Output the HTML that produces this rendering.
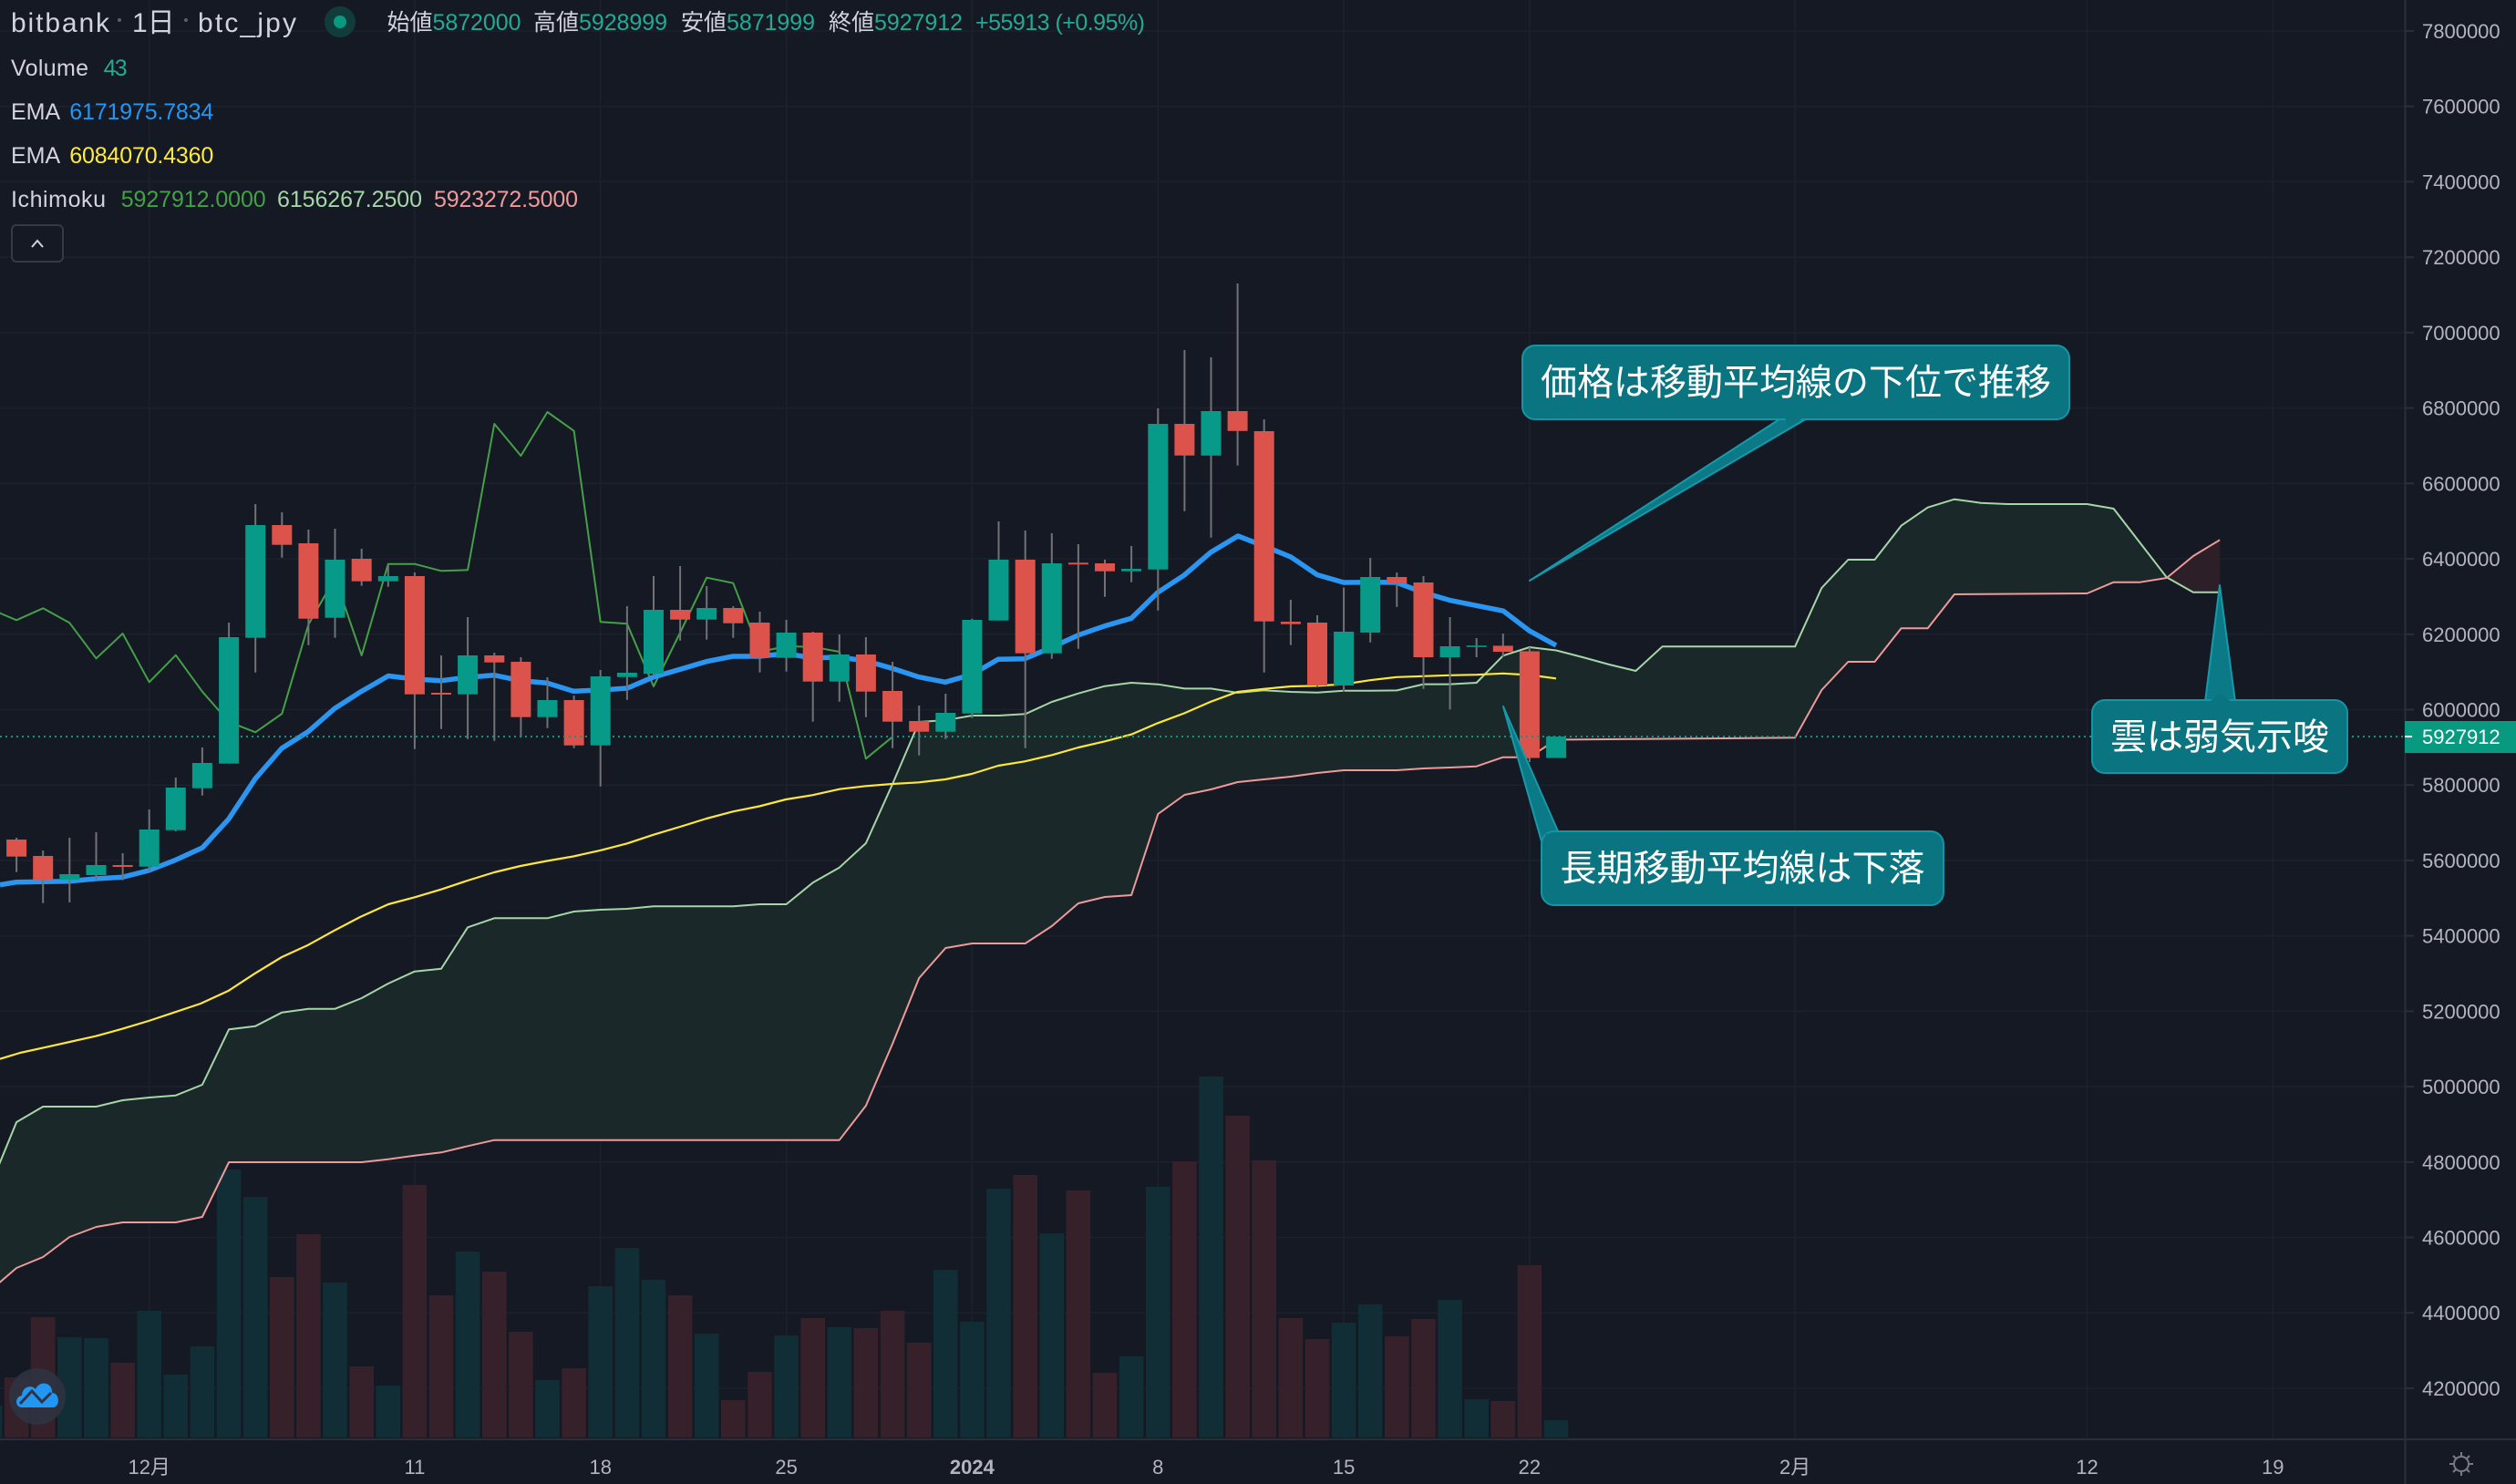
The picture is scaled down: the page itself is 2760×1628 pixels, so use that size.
<!DOCTYPE html>
<html><head><meta charset="utf-8"><style>
html,body{margin:0;padding:0;background:#151924;overflow:hidden;}
svg{display:block;}
text{font-family:"Liberation Sans","Noto Sans CJK JP",sans-serif;}
</style></head><body>
<svg width="2760" height="1628" viewBox="0 0 2760 1628" xmlns="http://www.w3.org/2000/svg">
<rect x="0" y="0" width="2760" height="1628" fill="#151924"/>
<!-- grid -->
<g stroke="#1d212c" stroke-width="1.5">
<line x1="0" y1="34" x2="2638" y2="34"/><line x1="0" y1="116.7" x2="2638" y2="116.7"/><line x1="0" y1="199.4" x2="2638" y2="199.4"/><line x1="0" y1="282.2" x2="2638" y2="282.2"/><line x1="0" y1="364.9" x2="2638" y2="364.9"/><line x1="0" y1="447.6" x2="2638" y2="447.6"/><line x1="0" y1="530.3" x2="2638" y2="530.3"/><line x1="0" y1="613" x2="2638" y2="613"/><line x1="0" y1="695.8" x2="2638" y2="695.8"/><line x1="0" y1="778.5" x2="2638" y2="778.5"/><line x1="0" y1="861.2" x2="2638" y2="861.2"/><line x1="0" y1="943.9" x2="2638" y2="943.9"/><line x1="0" y1="1026.6" x2="2638" y2="1026.6"/><line x1="0" y1="1109.4" x2="2638" y2="1109.4"/><line x1="0" y1="1192.1" x2="2638" y2="1192.1"/><line x1="0" y1="1274.8" x2="2638" y2="1274.8"/><line x1="0" y1="1357.5" x2="2638" y2="1357.5"/><line x1="0" y1="1440.2" x2="2638" y2="1440.2"/><line x1="0" y1="1523" x2="2638" y2="1523"/>
<line x1="163.7" y1="0" x2="163.7" y2="1579"/><line x1="454.9" y1="0" x2="454.9" y2="1579"/><line x1="658.7" y1="0" x2="658.7" y2="1579"/><line x1="862.6" y1="0" x2="862.6" y2="1579"/><line x1="1066.4" y1="0" x2="1066.4" y2="1579"/><line x1="1270.3" y1="0" x2="1270.3" y2="1579"/><line x1="1474.1" y1="0" x2="1474.1" y2="1579"/><line x1="1677.9" y1="0" x2="1677.9" y2="1579"/><line x1="1969.1" y1="0" x2="1969.1" y2="1579"/><line x1="2289.5" y1="0" x2="2289.5" y2="1579"/><line x1="2493.3" y1="0" x2="2493.3" y2="1579"/>
</g>
<!-- cloud fill -->
<polygon fill="#1b2829" points="-11,1302 18.1,1231 47.2,1214 76.3,1214 105.5,1214 134.6,1207 163.7,1204 192.8,1201.7 221.9,1190 251.1,1129.3 280.2,1125.7 309.3,1110.7 338.4,1106.7 367.5,1106.7 396.7,1095 425.8,1079 454.9,1065.7 484,1062.7 513.1,1017.3 542.3,1007.3 571.4,1007.3 600.5,1007.3 629.6,1000 658.7,998 687.9,997 717,994.3 746.1,994.3 775.2,994.3 804.3,994.3 833.5,992 862.6,992 891.7,968.3 920.8,951.7 949.9,925 979.1,860 1008.2,792 1037.3,790 1066.4,785 1095.5,785 1124.7,783.3 1153.8,770 1182.9,760.7 1212,752.7 1241.1,749 1270.3,750.7 1299.4,755.4 1328.5,755.4 1357.6,760 1386.7,757.3 1415.9,759 1445,759.8 1474.1,757.7 1503.2,757.7 1532.3,757.4 1561.5,750.6 1590.6,750.6 1619.7,749 1648.8,719.3 1677.9,710 1707.1,713.5 1736.2,721 1765.3,729 1794.4,736 1823.5,709.3 1969.1,709.3 1998.3,645 2027.4,614 2056.5,614 2085.6,576.7 2114.7,556.7 2143.9,547.7 2173,551.7 2202.1,553 2289.5,553 2318.6,558 2347.7,595.6 2376.8,633.6 2347.7,638.7 2318.6,638.7 2289.5,651 2143.9,652 2114.7,689.3 2085.6,689.3 2056.5,726 2027.4,726 1998.3,757 1969.1,809.3 1707.1,811.5 1677.9,830.7 1648.8,830.7 1619.7,840.7 1590.6,842 1561.5,843 1532.3,845 1474.1,845 1445,848 1415.9,852 1386.7,855 1357.6,858 1328.5,866 1299.4,872 1270.3,893 1241.1,982 1212,984 1182.9,991 1153.8,1016 1124.7,1035 1066.4,1035 1037.3,1040 1008.2,1073 979.1,1145 949.9,1213 920.8,1250.7 542.3,1250.7 513.1,1257.3 484,1264.3 454.9,1267.7 425.8,1271.7 396.7,1275 251.1,1275 221.9,1335 192.8,1341 163.7,1341 134.6,1341 105.5,1346 76.3,1357 47.2,1379 18.1,1391 -11,1416"/>
<polygon fill="#2c1f28" points="2376.8,633.6 2405.9,649.7 2435.1,649.7 2435.1,592.3 2405.9,610"/>
<!-- volume -->
<g fill="#112d36">
<rect x="-24.3" y="1541.7" width="26.6" height="35.3"/><rect x="63" y="1467" width="26.6" height="110"/><rect x="92.2" y="1468" width="26.6" height="109"/><rect x="150.4" y="1438" width="26.6" height="139"/><rect x="179.5" y="1508" width="26.6" height="69"/><rect x="208.6" y="1477" width="26.6" height="100"/><rect x="237.8" y="1283" width="26.6" height="294"/><rect x="266.9" y="1313" width="26.6" height="264"/><rect x="354.2" y="1407" width="26.6" height="170"/><rect x="412.5" y="1520" width="26.6" height="57"/><rect x="499.8" y="1373" width="26.6" height="204"/><rect x="587.2" y="1514" width="26.6" height="63"/><rect x="645.4" y="1411" width="26.6" height="166"/><rect x="674.6" y="1369" width="26.6" height="208"/><rect x="703.7" y="1404" width="26.6" height="173"/><rect x="761.9" y="1463" width="26.6" height="114"/><rect x="849.3" y="1465" width="26.6" height="112"/><rect x="907.5" y="1456" width="26.6" height="121"/><rect x="1024" y="1393" width="26.6" height="184"/><rect x="1053.1" y="1450" width="26.6" height="127"/><rect x="1082.2" y="1304" width="26.6" height="273"/><rect x="1140.5" y="1353" width="26.6" height="224"/><rect x="1227.8" y="1488" width="26.6" height="89"/><rect x="1257" y="1302" width="26.6" height="275"/><rect x="1315.2" y="1181" width="26.6" height="396"/><rect x="1460.8" y="1451" width="26.6" height="126"/><rect x="1489.9" y="1431" width="26.6" height="146"/><rect x="1577.3" y="1426" width="26.6" height="151"/><rect x="1606.4" y="1535" width="26.6" height="42"/><rect x="1693.8" y="1558" width="26.6" height="19"/>
</g>
<g fill="#36212a">
<rect x="4.8" y="1511" width="26.6" height="66"/><rect x="33.9" y="1445" width="26.6" height="132"/><rect x="121.3" y="1495" width="26.6" height="82"/><rect x="296" y="1401" width="26.6" height="176"/><rect x="325.1" y="1354" width="26.6" height="223"/><rect x="383.4" y="1499" width="26.6" height="78"/><rect x="441.6" y="1300" width="26.6" height="277"/><rect x="470.7" y="1421" width="26.6" height="156"/><rect x="529" y="1395" width="26.6" height="182"/><rect x="558.1" y="1461" width="26.6" height="116"/><rect x="616.3" y="1501" width="26.6" height="76"/><rect x="732.8" y="1421" width="26.6" height="156"/><rect x="791" y="1536" width="26.6" height="41"/><rect x="820.2" y="1505" width="26.6" height="72"/><rect x="878.4" y="1446" width="26.6" height="131"/><rect x="936.6" y="1457" width="26.6" height="120"/><rect x="965.8" y="1438" width="26.6" height="139"/><rect x="994.9" y="1473" width="26.6" height="104"/><rect x="1111.4" y="1289" width="26.6" height="288"/><rect x="1169.6" y="1306" width="26.6" height="271"/><rect x="1198.7" y="1506" width="26.6" height="71"/><rect x="1286.1" y="1274" width="26.6" height="303"/><rect x="1344.3" y="1224" width="26.6" height="353"/><rect x="1373.4" y="1273" width="26.6" height="304"/><rect x="1402.6" y="1446" width="26.6" height="131"/><rect x="1431.7" y="1469" width="26.6" height="108"/><rect x="1519" y="1466" width="26.6" height="111"/><rect x="1548.2" y="1447" width="26.6" height="130"/><rect x="1635.5" y="1537" width="26.6" height="40"/><rect x="1664.6" y="1388" width="26.6" height="189"/>
</g>
<!-- senkou lines -->
<polyline fill="none" stroke="#a5d6a7" stroke-width="2" stroke-linejoin="round" points="-11,1302 18.1,1231 47.2,1214 76.3,1214 105.5,1214 134.6,1207 163.7,1204 192.8,1201.7 221.9,1190 251.1,1129.3 280.2,1125.7 309.3,1110.7 338.4,1106.7 367.5,1106.7 396.7,1095 425.8,1079 454.9,1065.7 484,1062.7 513.1,1017.3 542.3,1007.3 571.4,1007.3 600.5,1007.3 629.6,1000 658.7,998 687.9,997 717,994.3 746.1,994.3 775.2,994.3 804.3,994.3 833.5,992 862.6,992 891.7,968.3 920.8,951.7 949.9,925 979.1,860 1008.2,792 1037.3,790 1066.4,785 1095.5,785 1124.7,783.3 1153.8,770 1182.9,760.7 1212,752.7 1241.1,749 1270.3,750.7 1299.4,755.4 1328.5,755.4 1357.6,760 1386.7,757.3 1415.9,759 1445,759.8 1474.1,757.7 1503.2,757.7 1532.3,757.4 1561.5,750.6 1590.6,750.6 1619.7,749 1648.8,719.3 1677.9,710 1707.1,713.5 1736.2,721 1765.3,729 1794.4,736 1823.5,709.3 1969.1,709.3 1998.3,645 2027.4,614 2056.5,614 2085.6,576.7 2114.7,556.7 2143.9,547.7 2173,551.7 2202.1,553 2289.5,553 2318.6,558 2347.7,595.6 2376.8,633.3 2405.9,649.7 2435.1,649.7"/>
<polyline fill="none" stroke="#ef9a9a" stroke-width="2" stroke-linejoin="round" points="-11,1416 18.1,1391 47.2,1379 76.3,1357 105.5,1346 134.6,1341 163.7,1341 192.8,1341 221.9,1335 251.1,1275 396.7,1275 425.8,1271.7 454.9,1267.7 484,1264.3 513.1,1257.3 542.3,1250.7 920.8,1250.7 949.9,1213 979.1,1145 1008.2,1073 1037.3,1040 1066.4,1035 1124.7,1035 1153.8,1016 1182.9,991 1212,984 1241.1,982 1270.3,893 1299.4,872 1328.5,866 1357.6,858 1386.7,855 1415.9,852 1445,848 1474.1,845 1532.3,845 1561.5,843 1590.6,842 1619.7,840.7 1648.8,830.7 1677.9,830.7 1707.1,811.5 1969.1,809.3 1998.3,757 2027.4,726 2056.5,726 2085.6,689.3 2114.7,689.3 2143.9,652 2289.5,651 2318.6,638.7 2347.7,638.7 2376.8,634 2405.9,610 2435.1,592.3"/>
<!-- chikou -->
<polyline fill="none" stroke="#43a047" stroke-width="2" stroke-linejoin="round" points="-11,668 18.1,680.3 47.2,667.3 76.3,683.3 105.5,722.3 134.6,695 163.7,748.3 192.8,718.7 221.9,758.7 251.1,792 280.2,803.3 309.3,783 338.4,685 367.5,634 396.7,719 425.8,618.7 454.9,618.7 484,626.3 513.1,625.3 542.3,465 571.4,500 600.5,452 629.6,472.7 658.7,682.3 687.9,684.3 717,753 746.1,694 775.2,633.7 804.3,639.7 833.5,715 862.6,709 891.7,709.7 920.8,715 949.9,832.3 979.1,808.3"/>
<!-- EMA slow -->
<polyline fill="none" stroke="#fde73a" stroke-width="2.2" stroke-linejoin="round" points="0,1161.7 22,1155 48,1149.3 76.5,1143 105,1136.7 134,1128.7 163,1120 191,1110.7 220,1101 251,1086.7 279,1068.3 309,1050 338,1036.7 367,1020.7 395,1006 426,992 455,984.3 484,975.7 513,966 542,957 571,950 600,944.5 629,939.5 659,932.8 688,925.3 717,915.7 746,907 775,898 804,890.3 833,884.5 862,877 891,872.3 921,865.7 950,862.3 979,860 1008,858.3 1037,855 1066,849 1095,840 1124,835.3 1154,828.3 1183,820 1212,813.3 1241,805.7 1270,793.3 1299,782.5 1328,769.9 1357,759.1 1387,755.7 1416,753 1445,752.3 1474,750.6 1503,746.2 1532,742.8 1561,741.8 1590,740.8 1620,740.2 1649,738.8 1678,740.5 1707,744.3"/>
<!-- EMA fast -->
<polyline fill="none" stroke="#2a96f2" stroke-width="5.5" stroke-linejoin="round" points="0,970.7 18,967.7 47,967.3 76,966.7 105,964 134,962.3 163,955 193,943.3 222,930 251,898.3 280,854.3 309,821 338,802.7 367,777.3 396,758.7 426,741.5 455,745 484,746.7 513,743 542,740.7 571,746.7 600,749.3 629,758.3 659,757 688,755 717,742.7 746,734.3 775,725.7 804,720 833,720 862,717 891,721.7 921,721 950,725 979,733.3 1008,742.7 1037,748.3 1066,740 1095,723.3 1124,722.7 1154,710 1183,696.7 1212,686.7 1241,678.3 1270,650 1299,631 1328,606 1358,588 1387,599.2 1416,611 1445,630.6 1474,639 1503,638.7 1532,639 1561,649.9 1590,658.4 1620,664.4 1649,670.2 1678,692.2 1707,708"/>
<!-- wicks -->
<g stroke="#707274" stroke-width="2">
<line x1="18.1" y1="919" x2="18.1" y2="956.7"/><line x1="47.2" y1="933" x2="47.2" y2="990.7"/><line x1="76.3" y1="919" x2="76.3" y2="990"/><line x1="105.5" y1="913" x2="105.5" y2="965"/><line x1="134.6" y1="936" x2="134.6" y2="965.7"/><line x1="163.7" y1="888" x2="163.7" y2="955.7"/><line x1="192.8" y1="853" x2="192.8" y2="912"/><line x1="221.9" y1="820" x2="221.9" y2="872.7"/><line x1="251.1" y1="683" x2="251.1" y2="837.7"/><line x1="280.2" y1="553" x2="280.2" y2="737.7"/><line x1="309.3" y1="562" x2="309.3" y2="611.7"/><line x1="338.4" y1="581" x2="338.4" y2="707.7"/><line x1="367.5" y1="580" x2="367.5" y2="699.7"/><line x1="396.7" y1="602" x2="396.7" y2="642.7"/><line x1="425.8" y1="618.7" x2="425.8" y2="643.7"/><line x1="454.9" y1="628" x2="454.9" y2="821.7"/><line x1="484" y1="719" x2="484" y2="799.7"/><line x1="513.1" y1="677" x2="513.1" y2="810.7"/><line x1="542.3" y1="716" x2="542.3" y2="812.7"/><line x1="571.4" y1="721" x2="571.4" y2="808.7"/><line x1="600.5" y1="743" x2="600.5" y2="798.7"/><line x1="629.6" y1="763" x2="629.6" y2="820.7"/><line x1="658.7" y1="735" x2="658.7" y2="862.7"/><line x1="687.9" y1="665" x2="687.9" y2="767.7"/><line x1="717" y1="632" x2="717" y2="741.7"/><line x1="746.1" y1="621" x2="746.1" y2="702.7"/><line x1="775.2" y1="643" x2="775.2" y2="701.7"/><line x1="804.3" y1="665" x2="804.3" y2="699.7"/><line x1="833.5" y1="671" x2="833.5" y2="737.7"/><line x1="862.6" y1="680" x2="862.6" y2="736.7"/><line x1="891.7" y1="693" x2="891.7" y2="791.7"/><line x1="920.8" y1="696" x2="920.8" y2="769.7"/><line x1="949.9" y1="699" x2="949.9" y2="786.7"/><line x1="979.1" y1="726" x2="979.1" y2="820.7"/><line x1="1008.2" y1="774" x2="1008.2" y2="828.7"/><line x1="1037.3" y1="761" x2="1037.3" y2="810.7"/><line x1="1066.4" y1="678.7" x2="1066.4" y2="787.7"/><line x1="1095.5" y1="572" x2="1095.5" y2="680.7"/><line x1="1124.7" y1="582" x2="1124.7" y2="820.7"/><line x1="1153.8" y1="585" x2="1153.8" y2="722.7"/><line x1="1182.9" y1="597" x2="1182.9" y2="711.7"/><line x1="1212" y1="614" x2="1212" y2="654.7"/><line x1="1241.1" y1="599" x2="1241.1" y2="638.7"/><line x1="1270.3" y1="448" x2="1270.3" y2="669.7"/><line x1="1299.4" y1="384" x2="1299.4" y2="560.7"/><line x1="1328.5" y1="392" x2="1328.5" y2="589.7"/><line x1="1357.6" y1="311" x2="1357.6" y2="510.6"/><line x1="1386.7" y1="460" x2="1386.7" y2="737.8"/><line x1="1415.9" y1="658" x2="1415.9" y2="707.7"/><line x1="1445" y1="675" x2="1445" y2="753"/><line x1="1474.1" y1="644.5" x2="1474.1" y2="758.8"/><line x1="1503.2" y1="612" x2="1503.2" y2="704.7"/><line x1="1532.3" y1="628" x2="1532.3" y2="665.8"/><line x1="1561.5" y1="632" x2="1561.5" y2="755.7"/><line x1="1590.6" y1="677" x2="1590.6" y2="778.4"/><line x1="1619.7" y1="700" x2="1619.7" y2="721"/><line x1="1648.8" y1="695" x2="1648.8" y2="720.5"/><line x1="1677.9" y1="710" x2="1677.9" y2="836"/>
</g>
<!-- bodies -->
<g fill="#dc534b">
<rect x="7.1" y="921" width="22" height="18.7"/><rect x="36.2" y="939" width="22" height="26"/><rect x="123.6" y="949" width="22" height="2"/><rect x="298.3" y="576" width="22" height="21.7"/><rect x="327.4" y="596" width="22" height="82.7"/><rect x="385.7" y="613" width="22" height="24.7"/><rect x="443.9" y="632" width="22" height="129.7"/><rect x="473" y="760" width="22" height="2"/><rect x="531.3" y="719" width="22" height="7.7"/><rect x="560.4" y="726" width="22" height="60.7"/><rect x="618.6" y="768" width="22" height="49.7"/><rect x="735.1" y="669" width="22" height="10.7"/><rect x="793.3" y="667" width="22" height="16.7"/><rect x="822.5" y="683" width="22" height="38.7"/><rect x="880.7" y="694" width="22" height="53.7"/><rect x="938.9" y="718" width="22" height="40.7"/><rect x="968.1" y="758" width="22" height="33.7"/><rect x="997.2" y="791" width="22" height="11.7"/><rect x="1113.7" y="614" width="22" height="102.7"/><rect x="1171.9" y="617.3" width="22" height="2"/><rect x="1201" y="618" width="22" height="8.7"/><rect x="1288.4" y="465" width="22" height="34.7"/><rect x="1346.6" y="451" width="22" height="21.8"/><rect x="1375.7" y="473" width="22" height="208.7"/><rect x="1404.9" y="682" width="22" height="2.7"/><rect x="1434" y="683" width="22" height="69"/><rect x="1521.3" y="633" width="22" height="7"/><rect x="1550.5" y="639" width="22" height="82"/><rect x="1637.8" y="708.4" width="22" height="6.6"/><rect x="1666.9" y="714.5" width="22" height="117"/>
</g>
<g fill="#089a88">
<rect x="65.3" y="959" width="22" height="6"/><rect x="94.5" y="949" width="22" height="11"/><rect x="152.7" y="910" width="22" height="40.7"/><rect x="181.8" y="864" width="22" height="46.7"/><rect x="210.9" y="837" width="22" height="27.7"/><rect x="240.1" y="699" width="22" height="138.7"/><rect x="269.2" y="576" width="22" height="123.7"/><rect x="356.5" y="614" width="22" height="63.7"/><rect x="414.8" y="632" width="22" height="5.7"/><rect x="502.1" y="719" width="22" height="42.7"/><rect x="589.5" y="768" width="22" height="18.7"/><rect x="647.7" y="742" width="22" height="75.7"/><rect x="676.9" y="738" width="22" height="4.7"/><rect x="706" y="669" width="22" height="70"/><rect x="764.2" y="667" width="22" height="12.7"/><rect x="851.6" y="694" width="22" height="27.7"/><rect x="909.8" y="718" width="22" height="29.7"/><rect x="1026.3" y="782" width="22" height="20.7"/><rect x="1055.4" y="680" width="22" height="102.7"/><rect x="1084.5" y="614" width="22" height="66.7"/><rect x="1142.8" y="618" width="22" height="98.7"/><rect x="1230.1" y="624" width="22" height="2.7"/><rect x="1259.3" y="465" width="22" height="159.7"/><rect x="1317.5" y="451" width="22" height="48.8"/><rect x="1463.1" y="693" width="22" height="59"/><rect x="1492.2" y="633" width="22" height="61"/><rect x="1579.6" y="709" width="22" height="12"/><rect x="1608.7" y="708.2" width="22" height="1.6"/><rect x="1696.1" y="808" width="22" height="23.5"/>
</g>
<!-- price line -->
<line x1="0" y1="808" x2="2638" y2="808" stroke="#089981" stroke-width="2" stroke-dasharray="2 4"/>
<!-- annotations -->
<g fill="#0b7a86" stroke="#1699ab" stroke-width="2" stroke-linejoin="round">
<polygon points="1955,458 1984,458 1678,637"/>
<polygon points="1649,775 1693,930 1710,914"/>
<polygon points="2435,642 2419,770 2452,770"/>
</g>
<g fill="#0a7480" stroke="#1594a5" stroke-width="2">
<rect x="1670" y="379" width="600" height="81" rx="14"/>
<rect x="1691" y="912" width="441" height="81" rx="14"/>
<rect x="2295" y="768" width="280" height="80" rx="14"/>
</g>
<g fill="#0a7480">
<polygon points="1957,456 1982,456 1962,468"/>
<polygon points="1695,915 1709,915 1700,926"/>
<polygon points="2421,772 2450,772 2436,760"/>
</g>
<g fill="#ffffff" font-size="40" text-anchor="middle">
<text x="1970" y="433">価格は移動平均線の下位で推移</text>
<text x="1911.5" y="966">長期移動平均線は下落</text>
<text x="2435" y="822">雲は弱気示唆</text>
</g>
<!-- axes -->
<line x1="2638.5" y1="0" x2="2638.5" y2="1628" stroke="#2a2e39" stroke-width="2"/>
<line x1="0" y1="1579" x2="2760" y2="1579" stroke="#2a2e39" stroke-width="2"/>
<g stroke="#2a2e39" stroke-width="2">
<line x1="2639" y1="34" x2="2648" y2="34"/><line x1="2639" y1="116.7" x2="2648" y2="116.7"/><line x1="2639" y1="199.4" x2="2648" y2="199.4"/><line x1="2639" y1="282.2" x2="2648" y2="282.2"/><line x1="2639" y1="364.9" x2="2648" y2="364.9"/><line x1="2639" y1="447.6" x2="2648" y2="447.6"/><line x1="2639" y1="530.3" x2="2648" y2="530.3"/><line x1="2639" y1="613" x2="2648" y2="613"/><line x1="2639" y1="695.8" x2="2648" y2="695.8"/><line x1="2639" y1="778.5" x2="2648" y2="778.5"/><line x1="2639" y1="861.2" x2="2648" y2="861.2"/><line x1="2639" y1="943.9" x2="2648" y2="943.9"/><line x1="2639" y1="1026.6" x2="2648" y2="1026.6"/><line x1="2639" y1="1109.4" x2="2648" y2="1109.4"/><line x1="2639" y1="1192.1" x2="2648" y2="1192.1"/><line x1="2639" y1="1274.8" x2="2648" y2="1274.8"/><line x1="2639" y1="1357.5" x2="2648" y2="1357.5"/><line x1="2639" y1="1440.2" x2="2648" y2="1440.2"/><line x1="2639" y1="1523" x2="2648" y2="1523"/>
</g>
<g fill="#b2b5be" font-size="22">
<text x="2657" y="42">7800000</text><text x="2657" y="124.7">7600000</text><text x="2657" y="207.4">7400000</text><text x="2657" y="290.2">7200000</text><text x="2657" y="372.9">7000000</text><text x="2657" y="455.6">6800000</text><text x="2657" y="538.3">6600000</text><text x="2657" y="621">6400000</text><text x="2657" y="703.8">6200000</text><text x="2657" y="786.5">6000000</text><text x="2657" y="869.2">5800000</text><text x="2657" y="951.9">5600000</text><text x="2657" y="1034.6">5400000</text><text x="2657" y="1117.4">5200000</text><text x="2657" y="1200.1">5000000</text><text x="2657" y="1282.8">4800000</text><text x="2657" y="1365.5">4600000</text><text x="2657" y="1448.2">4400000</text><text x="2657" y="1531">4200000</text>
</g>
<rect x="2638" y="791" width="122" height="35" fill="#089981"/>
<line x1="2638" y1="808" x2="2646" y2="808" stroke="#ffffff" stroke-width="2"/>
<text x="2657" y="816" fill="#ffffff" font-size="22">5927912</text>
<g fill="#b2b5be" font-size="22" text-anchor="middle">
<text x="163.7" y="1617">12月</text><text x="454.9" y="1617">11</text><text x="658.7" y="1617">18</text><text x="862.6" y="1617">25</text><text x="1066.4" y="1617" font-weight="bold">2024</text><text x="1270.3" y="1617">8</text><text x="1474.1" y="1617">15</text><text x="1677.9" y="1617">22</text><text x="1969.1" y="1617">2月</text><text x="2289.5" y="1617">12</text><text x="2493.3" y="1617">19</text>
</g>
<!-- gear -->
<g stroke="#787b86" stroke-width="2" fill="none">
<circle cx="2700" cy="1606" r="8"/>
<line x1="2700" y1="1593" x2="2700" y2="1597"/><line x1="2700" y1="1615" x2="2700" y2="1619"/><line x1="2687" y1="1606" x2="2691" y2="1606"/><line x1="2709" y1="1606" x2="2713" y2="1606"/>
<line x1="2691" y1="1597" x2="2694" y2="1600"/><line x1="2706" y1="1612" x2="2709" y2="1615"/><line x1="2709" y1="1597" x2="2706" y2="1600"/><line x1="2694" y1="1612" x2="2691" y2="1615"/>
</g>
<!-- logo -->
<circle cx="41" cy="1532" r="31" fill="#2f3340" opacity="0.9"/>
<path d="M24,1544 C16,1544 16,1532 24,1531 C24,1522 34,1518 39,1524 C43,1514 58,1516 57,1528 C66,1528 66,1544 58,1544 Z" fill="#2196f3"/>
<polyline points="22,1540 35,1526 46,1538 56,1528" fill="none" stroke="#2f3340" stroke-width="3"/>
<!-- header -->
<text x="12" y="35" font-size="30" fill="#d1d4dc" textLength="108">bitbank</text>
<circle cx="131" cy="22" r="2" fill="#5d606b"/>
<text x="145" y="35" font-size="30" fill="#d1d4dc">1日</text>
<circle cx="204" cy="22" r="2" fill="#5d606b"/>
<text x="217" y="35" font-size="30" fill="#d1d4dc" textLength="108">btc_jpy</text>
<circle cx="373" cy="24" r="17" fill="#113c3b"/>
<circle cx="373" cy="24" r="7" fill="#089981"/>
<g font-size="25">
<text x="424.5" y="33" fill="#d1d4dc">始値</text><text x="474.5" y="33" fill="#22ab94" textLength="97">5872000</text>
<text x="585" y="33" fill="#d1d4dc">高値</text><text x="635" y="33" fill="#22ab94" textLength="97">5928999</text>
<text x="747" y="33" fill="#d1d4dc">安値</text><text x="797" y="33" fill="#22ab94" textLength="97">5871999</text>
<text x="909" y="33" fill="#d1d4dc">終値</text><text x="959" y="33" fill="#22ab94" textLength="97">5927912</text>
<text x="1070" y="33" fill="#22ab94" textLength="186">+55913 (+0.95%)</text>
<text x="12" y="83" fill="#d1d4dc" textLength="85">Volume</text><text x="113.6" y="83" fill="#22ab94" textLength="26">43</text>
<text x="12" y="131" fill="#d1d4dc">EMA</text><text x="76.3" y="131" fill="#2196f3" textLength="158">6171975.7834</text>
<text x="12" y="179" fill="#d1d4dc">EMA</text><text x="76.3" y="179" fill="#ffeb3b" textLength="158">6084070.4360</text>
<text x="12" y="227" fill="#d1d4dc" textLength="104">Ichimoku</text><text x="132.7" y="227" fill="#43a047" textLength="159">5927912.0000</text><text x="304" y="227" fill="#a5d6a7" textLength="159">6156267.2500</text><text x="476" y="227" fill="#ef9a9a" textLength="158">5923272.5000</text>
</g>
<rect x="13" y="247" width="56" height="40" rx="5" fill="#151924" stroke="#363a45" stroke-width="2"/>
<polyline points="35,271 41,264 47,271" fill="none" stroke="#d1d4dc" stroke-width="2"/>
</svg>
</body></html>
